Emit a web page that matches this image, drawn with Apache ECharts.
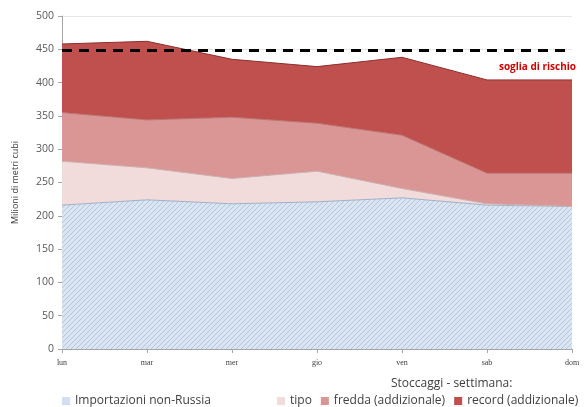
<!DOCTYPE html>
<html><head><meta charset="utf-8">
<script src="https://cdn.jsdelivr.net/npm/echarts@6/dist/echarts.min.js"></script>
<style>html,body{margin:0;padding:0;background:#fff}#c{width:585px;height:407px}</style>
</head><body><div id="c"></div>
<script>
const categories = ['lun','mar','mer','gio','ven','sab','dom'];
const importazioni = [216, 224, 218, 221, 227, 216, 214];
const tipo = [66, 48, 38, 46, 14, 2, 0];
const fredda = [73, 72, 92, 72, 80, 46, 50];
const record = [103, 118, 87, 85, 117, 140, 140];
const soglia = 448;
const yTicks = [0,50,100,150,200,250,300,350,400,450,500];

const pc = document.createElement('canvas');
pc.width = 5; pc.height = 5;
const g = pc.getContext('2d');
g.fillStyle = '#dbe5f1'; g.fillRect(0,0,5,5);
g.strokeStyle = '#b3c6e0'; g.lineWidth = 1;
g.beginPath();
for (let k = -5; k <= 10; k += 5) { g.moveTo(k, 5); g.lineTo(k + 5, 0); }
g.stroke();

const chart = echarts.init(document.getElementById('c'));
const fontS = 'Open Sans';
chart.setOption({
  animation: false,
  grid: {left: 62, right: 13, top: 16, bottom: 58},
  title: {text: 'Stoccaggi - settimana:', left: 386, top: 373,
    textStyle: {fontSize: 12, fontWeight: 'normal', color: '#404040', fontFamily: fontS}},
  legend: [
    {data: ['Importazioni non-Russia'], left: 57, top: 390, icon: 'rect', itemWidth: 8, itemHeight: 8, itemGap: 8,
     textStyle: {fontSize: 12, color: '#404040', fontFamily: fontS}},
    {data: ['tipo','fredda (addizionale)','record (addizionale)'], left: 272, top: 390, icon: 'rect', itemWidth: 8, itemHeight: 8, itemGap: 9,
     textStyle: {fontSize: 12, color: '#404040', fontFamily: fontS}}
  ],
  xAxis: {type: 'category', data: categories, boundaryGap: false,
    axisLine: {lineStyle: {color: '#a6a6a6'}},
    axisTick: {show: true, lineStyle: {color: '#a6a6a6'}, length: 4},
    axisLabel: {fontSize: 8, color: '#404040', fontFamily: 'Liberation Serif', margin: 10}},
  yAxis: {type: 'value', min: 0, max: 500, interval: 50,
    name: 'Milioni di metri cubi', nameLocation: 'middle', nameGap: 42,
    nameTextStyle: {fontSize: 9, color: '#404040', fontFamily: fontS},
    axisLine: {show: true, lineStyle: {color: '#a6a6a6'}},
    axisTick: {show: true, lineStyle: {color: '#a6a6a6'}, length: 4},
    axisLabel: {fontSize: 10.5, color: '#595959', fontFamily: fontS, margin: 8,
      formatter: v => yTicks.includes(v) ? String(v) : ''},
    splitLine: {show: true, lineStyle: {color: '#e6e6e6'}}},
  series: [
    {name: 'Importazioni non-Russia', type: 'line', stack: 's', data: importazioni, symbol: 'none',
     itemStyle: {color: '#d3def0'},
     lineStyle: {color: '#9fb0c8', width: 1}, areaStyle: {color: {image: pc, repeat: 'repeat'}, opacity: 1}},
    {name: 'tipo', type: 'line', stack: 's', data: tipo, symbol: 'none',
     itemStyle: {color: '#f2dcdb'},
     lineStyle: {color: '#c9b0b0', width: 1}, areaStyle: {color: '#f2dcdb', opacity: 1}},
    {name: 'fredda (addizionale)', type: 'line', stack: 's', data: fredda, symbol: 'none',
     itemStyle: {color: '#d99694'},
     lineStyle: {color: '#b87372', width: 1}, areaStyle: {color: '#d99694', opacity: 1}},
    {name: 'record (addizionale)', type: 'line', stack: 's', data: record, symbol: 'none',
     itemStyle: {color: '#c0504d'},
     lineStyle: {color: '#8c2f2d', width: 1}, areaStyle: {color: '#c0504d', opacity: 1},
     markLine: {symbol: 'none', silent: true,
       data: [{yAxis: soglia}],
       lineStyle: {color: '#000', type: [10, 7], width: 3},
       label: {show: true, position: 'insideEndBottom', formatter: 'soglia di rischio',
         color: '#d00000', fontSize: 10, fontWeight: 'bold', fontFamily: fontS, distance: [-4, 12]}}}
  ]
});
</script></body></html>
